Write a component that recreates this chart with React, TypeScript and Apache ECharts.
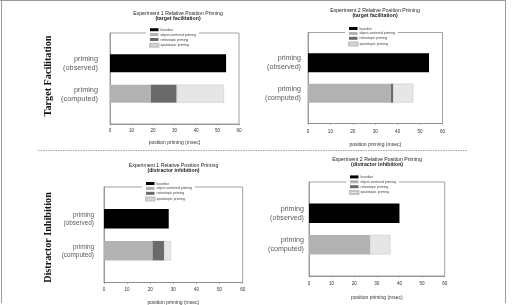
import React, { useEffect, useRef } from "react";
import * as echarts from "echarts";

// ---- data ----
const categories = ["", "priming\n(observed)", "priming\n(computed)", ""];
const seriesNames = ["baseline", "object-centered priming", "retinotopic priming", "spatiotopic priming"];
const panelTitles = [
  "Experiment 1 Relative Position Priming",
  "Experiment 2 Relative Position Priming",
  "Experiment 1 Relative Position Priming",
  "Experiment 2 Relative Position Priming",
];
const panelSubtitles = ["(target facilitation)", "(target facilitation)", "(distractor inhibition)", "(distractor inhibition)"];
const rowTitles = ["Target Facilitation", "Distractor Inhibition"];
const xAxisName = "position priming (msec)";
const xMin = 0;
const xMax = 60;
const xInterval = 10;
// per panel: [Exp1 target, Exp2 target, Exp1 distractor, Exp2 distractor]
const baseline = [54, 54, 28, 40];
const objectCentered = [19, 37, 21, 27];
const retinotopic = [12, 1, 5, 0];
const spatiotopic = [22, 9, 3, 9];

// ---- layout / style ----
const colors = ["#000000", "#b2b2b2", "#6a6a6a", "#e6e6e6"];
const layout = [
  { left: 110, top: 33, width: 129, height: 91, bar: 18, yFont: 7.3, yMargin: 12, labelMargin: 4, nameGap: 15, tx: 178, ty: 12.5, legX: 146, legY: 27 },
  { left: 308, top: 32.5, width: 134.5, height: 91, bar: 19, yFont: 7.1, yMargin: 7, labelMargin: 5.5, nameGap: 18, tx: 375, ty: 10, legX: 345, legY: 25.8 },
  { left: 104, top: 187, width: 138.7, height: 99, bar: 19.5, yFont: 6.4, yMargin: 10, labelMargin: 4.5, nameGap: 16.5, tx: 173.5, ty: 165, legX: 142, legY: 180.8 },
  { left: 309, top: 182, width: 135.7, height: 94, bar: 19.5, yFont: 7.1, yMargin: 5, labelMargin: 5, nameGap: 18, tx: 377, ty: 159.3, legX: 346, legY: 174.2 },
];

const FONT = "'Liberation Sans', Arial, sans-serif";

function buildOption() {
  const grid: any[] = [];
  const xAxis: any[] = [];
  const yAxis: any[] = [];
  const series: any[] = [];
  const legend: any[] = [];
  const graphic: any[] = [];

  layout.forEach((L, i) => {
    grid.push({ left: L.left, top: L.top, width: L.width, height: L.height, show: true, borderColor: "#8a8a8a", borderWidth: 0.8, backgroundColor: "#fff" });
    xAxis.push({
      type: "value",
      gridIndex: i,
      min: xMin,
      max: xMax,
      interval: xInterval,
      name: xAxisName,
      nameLocation: "middle",
      nameGap: L.nameGap,
      nameTextStyle: { fontSize: 5, color: "#333", fontFamily: FONT },
      axisLine: { show: true, lineStyle: { color: "#8a8a8a", width: 0.8 } },
      axisTick: { show: true, length: 1.5, lineStyle: { color: "#8a8a8a", width: 0.6 } },
      axisLabel: { fontSize: 4.6, color: "#333", margin: L.labelMargin, fontFamily: FONT },
      splitLine: { show: false },
    });
    yAxis.push({
      type: "category",
      gridIndex: i,
      data: categories,
      inverse: true,
      boundaryGap: false,
      axisLine: { show: true, lineStyle: { color: "#8a8a8a", width: 0.8 } },
      axisTick: { show: false },
      axisLabel: { fontSize: L.yFont, lineHeight: L.yFont * 1.25, color: "#5a5a5a", margin: L.yMargin, align: "right", fontFamily: FONT, interval: 0 },
      splitLine: { show: false },
    });
    const vals = [baseline[i], objectCentered[i], retinotopic[i], spatiotopic[i]];
    vals.forEach((v, k) => {
      const row = k === 0 ? 1 : 2;
      const data = categories.map((_, c) => (c === row ? v : null));
      series.push({
        type: "bar",
        name: seriesNames[k],
        xAxisIndex: i,
        yAxisIndex: i,
        stack: "p" + i,
        barWidth: L.bar,
        data,
        itemStyle: {
          color: colors[k],
          borderColor: k === 3 ? "#c4c4c4" : colors[k],
          borderWidth: k === 3 ? 0.5 : 0,
        },
        emphasis: { disabled: true },
      });
    });
    legend.push({
      orient: "vertical",
      left: L.legX,
      top: L.legY,
      data: seriesNames,
      icon: "rect",
      itemWidth: 8.5,
      itemHeight: 3,
      itemGap: 1.5,
      padding: [1, 3, 1, 3],
      backgroundColor: "#fff",
      textStyle: { fontSize: 3.4, lineHeight: 3.4, color: "#444", padding: [0, 0, 0, -3], fontFamily: FONT },
      selectedMode: false,
    });
    graphic.push({
      type: "text",
      x: L.tx,
      y: L.ty,
      style: { text: panelTitles[i], fontSize: 5.2, fill: "#222", textAlign: "center", textVerticalAlign: "middle", fontFamily: FONT },
    });
    graphic.push({
      type: "text",
      x: L.tx,
      y: L.ty + 5,
      style: { text: panelSubtitles[i], fontSize: 5.2, fontWeight: "bold", fill: "#222", textAlign: "center", textVerticalAlign: "middle", fontFamily: FONT },
    });
  });

  // row titles
  graphic.push({
    type: "text",
    x: 47,
    y: 76,
    rotation: Math.PI / 2,
    style: { text: rowTitles[0], fontSize: 10.2, fontWeight: "bold", fill: "#111", textAlign: "center", textVerticalAlign: "middle", fontFamily: "'Liberation Serif', 'Times New Roman', serif" },
  });
  graphic.push({
    type: "text",
    x: 47,
    y: 237.5,
    rotation: Math.PI / 2,
    style: { text: rowTitles[1], fontSize: 10.2, fontWeight: "bold", fill: "#111", textAlign: "center", textVerticalAlign: "middle", fontFamily: "'Liberation Serif', 'Times New Roman', serif" },
  });
  // frame
  const frame = { stroke: "#9a9a9a", lineWidth: 1 };
  graphic.push({ type: "line", shape: { x1: 0, y1: 0.5, x2: 506, y2: 0.5 }, style: frame, silent: true });
  graphic.push({ type: "line", shape: { x1: 1.5, y1: 0, x2: 1.5, y2: 303 }, style: frame, silent: true });
  graphic.push({ type: "line", shape: { x1: 505.5, y1: 0, x2: 505.5, y2: 303 }, style: frame, silent: true });
  // dashed separator
  graphic.push({ type: "line", shape: { x1: 38, y1: 150.5, x2: 467, y2: 150.5 }, style: { stroke: "#8a8a8a", lineWidth: 0.8, lineDash: [1.5, 1] }, silent: true });

  return {
    animation: false,
    backgroundColor: "#fff",
    grid,
    xAxis,
    yAxis,
    series,
    legend,
    graphic,
  };
}

export default function App() {
  const ref = useRef<HTMLDivElement>(null);
  useEffect(() => {
    if (!ref.current) return;
    const chart = echarts.init(ref.current, null, { renderer: "svg" });
    chart.setOption(buildOption() as any);
    return () => chart.dispose();
  }, []);
  return (
    <div style={{ position: "fixed", left: 0, top: 0, width: 516, height: 305, filter: "grayscale(1)", willChange: "transform" }}>
      <div ref={ref} style={{ width: 516, height: 305 }} />
    </div>
  );
}
